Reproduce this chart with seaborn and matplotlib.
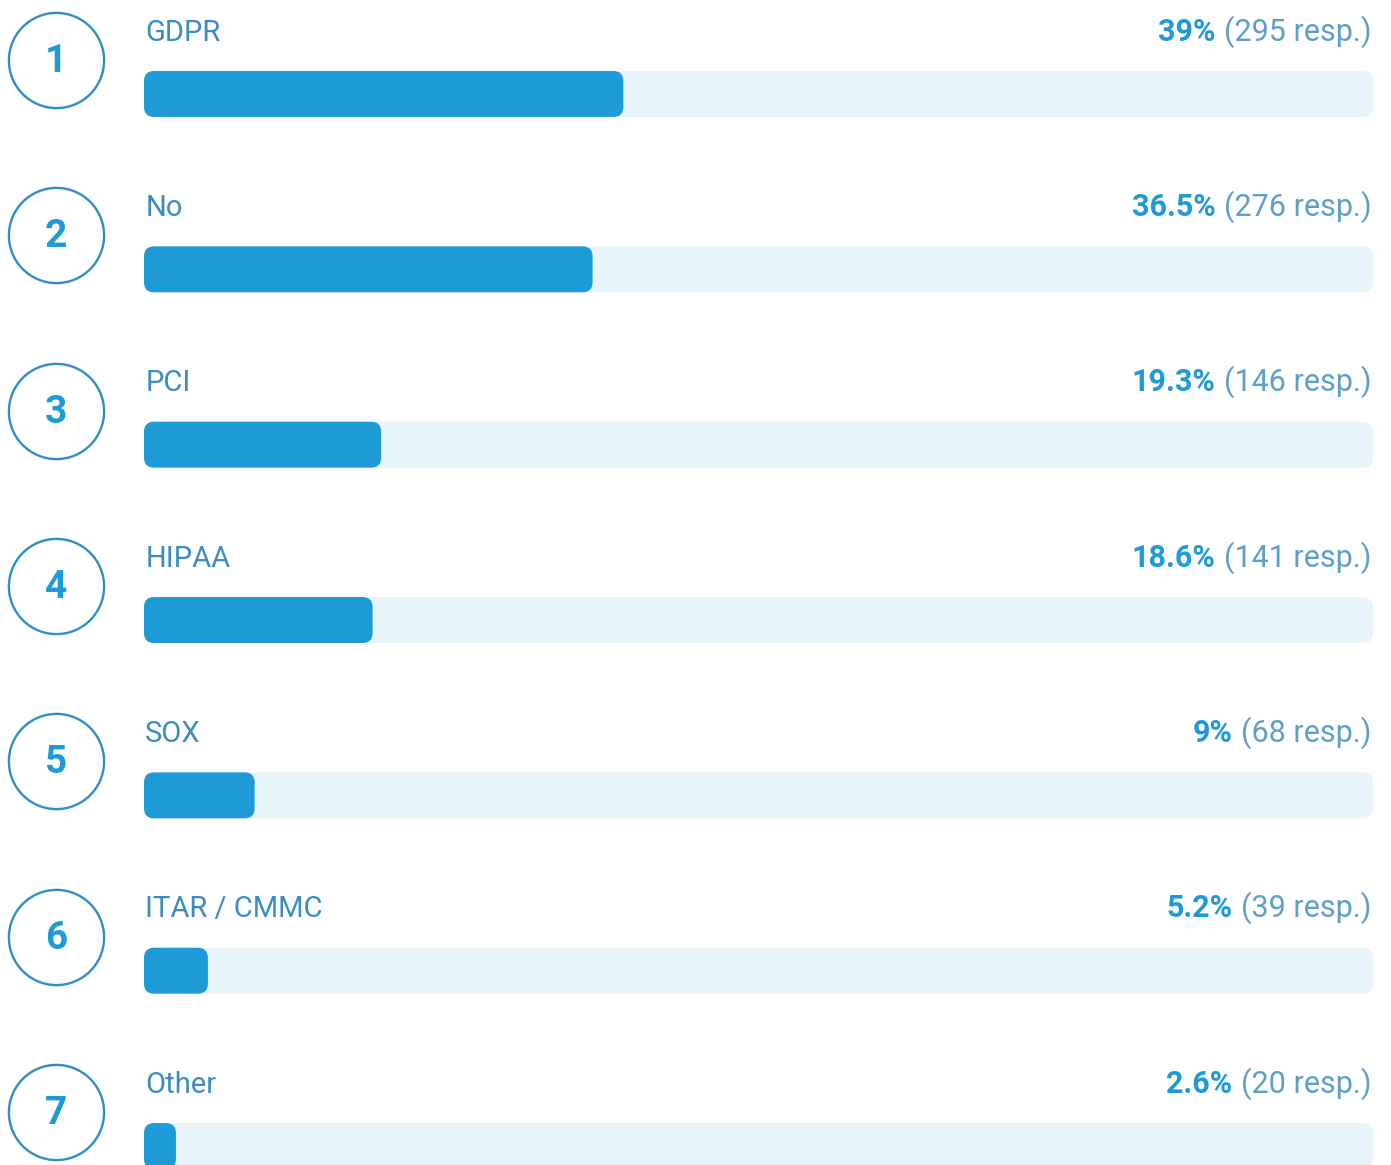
import matplotlib
matplotlib.use("Agg")
import matplotlib.pyplot as plt
from matplotlib.patches import FancyBboxPatch
import seaborn as sns
import pandas as pd

# Survey data
categories = ["GDPR", "No", "PCI", "HIPAA", "SOX", "ITAR / CMMC", "Other"]
percent = [39, 36.5, 19.3, 18.6, 9, 5.2, 2.6]
pct_labels = ["39%", "36.5%", "19.3%", "18.6%", "9%", "5.2%", "2.6%"]
responses = [295, 276, 146, 141, 68, 39, 20]
ranks = [1, 2, 3, 4, 5, 6, 7]

fill_color = "#1E9BD7"
track_color = "#E7F4FA"
label_color = "#3B8DBE"
resp_color = "#5E9FC7"
circle_color = "#2F8FC5"

sns.set_style("white")
plt.rcParams["font.family"] = ["Roboto", "DejaVu Sans"]

df = pd.DataFrame({"category": categories, "percent": percent, "track": 100})

W, H = 1391, 1165
fig = plt.figure(figsize=(W / 100, H / 100), dpi=100)
ax = fig.add_axes([144 / W, 0, (1373 - 144) / W, 1])

bar_h = 0.262
sns.barplot(data=df, x="track", y="category", color=track_color, width=bar_h,
            saturation=1, ax=ax, orient="h")
sns.barplot(data=df, x="percent", y="category", color=fill_color, width=bar_h,
            saturation=1, ax=ax, orient="h")

ax.set_xlim(0, 100)
ax.set_ylim(6.108, -0.536)

# px per data unit, for rounded corners that stay circular
px_x = (1373 - 144) / 100
px_y = 175.33
radius_px = 10
for i, p in enumerate(list(ax.patches)):
    x, y, w, h = p.get_x(), p.get_y(), p.get_width(), p.get_height()
    fc = p.get_facecolor()
    p.remove()
    box = FancyBboxPatch((x, y), w, h,
                         boxstyle=f"round,pad=0,rounding_size={radius_px / px_x}",
                         mutation_aspect=px_x / px_y,
                         facecolor=fc, edgecolor="none", zorder=2 + (i >= len(categories)))
    ax.add_patch(box)

ax.set_axis_off()

circle_x = (56 - 144) / px_x
for i, cat in enumerate(categories):
    ax.scatter([circle_x], [i - 0.194], s=4700, facecolor="white",
               edgecolor=circle_color, linewidth=1.7, clip_on=False, zorder=4)
    ax.text(circle_x, i - 0.185, str(ranks[i]), ha="center", va="center",
            fontsize=28, fontweight="bold", color=fill_color, zorder=5, clip_on=False)
    ax.text(0.1, i - 0.305, cat, ha="left", va="baseline", fontsize=21,
            color=label_color, clip_on=False)

fig.canvas.draw()
renderer = fig.canvas.get_renderer()
inv = ax.transData.inverted()
for i in range(len(categories)):
    t = ax.text(99.9, i - 0.305, f"({responses[i]} resp.)", ha="right", va="baseline",
                fontsize=22, color=resp_color, clip_on=False)
    bb = t.get_window_extent(renderer=renderer)
    x0 = inv.transform((bb.x0 - 9, bb.y0))[0]
    ax.text(x0, i - 0.305, pct_labels[i], ha="right", va="baseline",
            fontsize=22, fontweight="bold", color=fill_color, clip_on=False)

fig.savefig("out.png", dpi=100, facecolor="white")
